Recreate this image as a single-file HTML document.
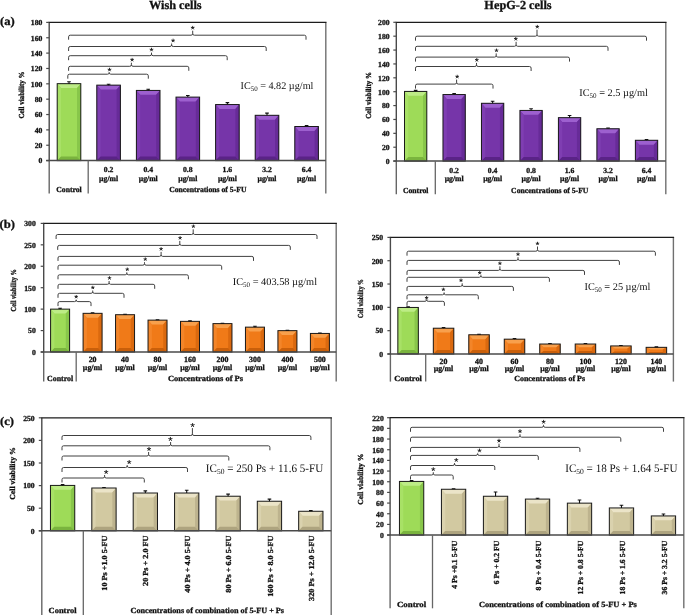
<!DOCTYPE html>
<html><head><meta charset="utf-8"><style>
html,body{margin:0;padding:0;background:#fff;}
body{width:685px;height:615px;overflow:hidden;}
svg{display:block;will-change:transform;}
text[font-weight=bold]{stroke:#111;stroke-width:0.3px;}
svg{font-family:"Liberation Serif",serif;text-rendering:geometricPrecision;}
</style></head><body>
<svg width="685" height="615" viewBox="0 0 685 615">
<rect width="685" height="615" fill="#fff"/>
<path d="M68.6,39.7V36.8Q68.6,35.2 70.2,35.2H191.1Q192.7,35.2 192.7,33.6V30.7M192.7,33.6Q192.7,35.2 194.3,35.2H304.4Q306,35.2 306,36.8V39.7" stroke="#404040" stroke-width="1" fill="none"/>
<path d="M192.7,27.8L192.7,26.3M192.7,27.8L194.13,27.34M192.7,27.8L193.58,29.01M192.7,27.8L191.82,29.01M192.7,27.8L191.27,27.34" stroke="#222" stroke-width="0.95" stroke-linecap="round" fill="none"/>
<path d="M68.6,51V48.1Q68.6,46.5 70.2,46.5H170Q171.6,46.5 171.6,44.9V43.5M171.6,44.9Q171.6,46.5 173.2,46.5H264.6Q266.2,46.5 266.2,48.1V51" stroke="#404040" stroke-width="1" fill="none"/>
<path d="M173.1,40.6L173.1,39.1M173.1,40.6L174.53,40.14M173.1,40.6L173.98,41.81M173.1,40.6L172.22,41.81M173.1,40.6L171.67,40.14" stroke="#222" stroke-width="0.95" stroke-linecap="round" fill="none"/>
<path d="M68.6,60.2V57.3Q68.6,55.7 70.2,55.7H149.9Q151.5,55.7 151.5,54.1V52.6M151.5,54.1Q151.5,55.7 153.1,55.7H225.6Q227.2,55.7 227.2,57.3V60.2" stroke="#404040" stroke-width="1" fill="none"/>
<path d="M151.5,49.7L151.5,48.2M151.5,49.7L152.93,49.24M151.5,49.7L152.38,50.91M151.5,49.7L150.62,50.91M151.5,49.7L150.07,49.24" stroke="#222" stroke-width="0.95" stroke-linecap="round" fill="none"/>
<path d="M68.6,70.8V67.9Q68.6,66.3 70.2,66.3H129.8Q131.4,66.3 131.4,64.7V62.7M131.4,64.7Q131.4,66.3 133,66.3H187.2Q188.8,66.3 188.8,67.9V70.8" stroke="#404040" stroke-width="1" fill="none"/>
<path d="M132.1,59.8L132.1,58.3M132.1,59.8L133.53,59.34M132.1,59.8L132.98,61.01M132.1,59.8L131.22,61.01M132.1,59.8L130.67,59.34" stroke="#222" stroke-width="0.95" stroke-linecap="round" fill="none"/>
<path d="M67.8,78.7V75.8Q67.8,74.2 69.4,74.2H107.6Q109.2,74.2 109.2,72.6V72.2M109.2,72.6Q109.2,74.2 110.8,74.2H146.7Q148.3,74.2 148.3,75.8V78.7" stroke="#404040" stroke-width="1" fill="none"/>
<path d="M109.5,69.7L109.5,68.2M109.5,69.7L110.93,69.24M109.5,69.7L110.38,70.91M109.5,69.7L108.62,70.91M109.5,69.7L108.07,69.24" stroke="#222" stroke-width="0.95" stroke-linecap="round" fill="none"/>
<rect x="57.2" y="83.67" width="23.6" height="76.93" fill="#9edb58"/>
<polygon points="57.2,83.67 80.8,83.67 77,88.07 61,88.07" fill="#bdec86"/>
<polygon points="57.2,83.67 61,88.07 61,156.6 57.2,160.6" fill="#a8e166"/>
<polygon points="80.8,83.67 80.8,160.6 77,156.6 77,88.07" fill="#88c64a"/>
<polygon points="57.2,160.6 61,156.6 77,156.6 80.8,160.6" fill="#7ab43e"/>
<rect x="57.2" y="83.67" width="23.6" height="76.93" fill="none" stroke="#1a1a1a" stroke-width="1"/>
<path d="M69,83.67V81.75M67.2,81.75H70.8" stroke="#111" stroke-width="1.1" fill="none"/>
<rect x="96.8" y="85.13" width="23.6" height="75.47" fill="#7635a9"/>
<polygon points="96.8,85.13 120.4,85.13 116.6,89.53 100.6,89.53" fill="#9d60cf"/>
<polygon points="96.8,85.13 100.6,89.53 100.6,156.6 96.8,160.6" fill="#7f3eb2"/>
<polygon points="120.4,85.13 120.4,160.6 116.6,156.6 116.6,89.53" fill="#672b98"/>
<polygon points="96.8,160.6 100.6,156.6 116.6,156.6 120.4,160.6" fill="#5a2387"/>
<rect x="96.8" y="85.13" width="23.6" height="75.47" fill="none" stroke="#1a1a1a" stroke-width="1"/>
<path d="M108.6,85.13V84.21M106.8,84.21H110.4" stroke="#111" stroke-width="1.1" fill="none"/>
<rect x="136.4" y="90.43" width="23.6" height="70.17" fill="#7635a9"/>
<polygon points="136.4,90.43 160,90.43 156.2,94.83 140.2,94.83" fill="#9d60cf"/>
<polygon points="136.4,90.43 140.2,94.83 140.2,156.6 136.4,160.6" fill="#7f3eb2"/>
<polygon points="160,90.43 160,160.6 156.2,156.6 156.2,94.83" fill="#672b98"/>
<polygon points="136.4,160.6 140.2,156.6 156.2,156.6 160,160.6" fill="#5a2387"/>
<rect x="136.4" y="90.43" width="23.6" height="70.17" fill="none" stroke="#1a1a1a" stroke-width="1"/>
<path d="M148.2,90.43V89.27M146.4,89.27H150" stroke="#111" stroke-width="1.1" fill="none"/>
<rect x="176" y="97.1" width="23.6" height="63.5" fill="#7635a9"/>
<polygon points="176,97.1 199.6,97.1 195.8,101.5 179.8,101.5" fill="#9d60cf"/>
<polygon points="176,97.1 179.8,101.5 179.8,156.6 176,160.6" fill="#7f3eb2"/>
<polygon points="199.6,97.1 199.6,160.6 195.8,156.6 195.8,101.5" fill="#672b98"/>
<polygon points="176,160.6 179.8,156.6 195.8,156.6 199.6,160.6" fill="#5a2387"/>
<rect x="176" y="97.1" width="23.6" height="63.5" fill="none" stroke="#1a1a1a" stroke-width="1"/>
<path d="M187.8,97.1V95.57M186,95.57H189.6" stroke="#111" stroke-width="1.1" fill="none"/>
<rect x="215.6" y="104.55" width="23.6" height="56.05" fill="#7635a9"/>
<polygon points="215.6,104.55 239.2,104.55 235.4,108.95 219.4,108.95" fill="#9d60cf"/>
<polygon points="215.6,104.55 219.4,108.95 219.4,156.6 215.6,160.6" fill="#7f3eb2"/>
<polygon points="239.2,104.55 239.2,160.6 235.4,156.6 235.4,108.95" fill="#672b98"/>
<polygon points="215.6,160.6 219.4,156.6 235.4,156.6 239.2,160.6" fill="#5a2387"/>
<rect x="215.6" y="104.55" width="23.6" height="56.05" fill="none" stroke="#1a1a1a" stroke-width="1"/>
<path d="M227.4,104.55V102.63M225.6,102.63H229.2" stroke="#111" stroke-width="1.1" fill="none"/>
<rect x="255.2" y="115.3" width="23.6" height="45.3" fill="#7635a9"/>
<polygon points="255.2,115.3 278.8,115.3 275,119.7 259,119.7" fill="#9d60cf"/>
<polygon points="255.2,115.3 259,119.7 259,156.6 255.2,160.6" fill="#7f3eb2"/>
<polygon points="278.8,115.3 278.8,160.6 275,156.6 275,119.7" fill="#672b98"/>
<polygon points="255.2,160.6 259,156.6 275,156.6 278.8,160.6" fill="#5a2387"/>
<rect x="255.2" y="115.3" width="23.6" height="45.3" fill="none" stroke="#1a1a1a" stroke-width="1"/>
<path d="M267,115.3V113.15M265.2,113.15H268.8" stroke="#111" stroke-width="1.1" fill="none"/>
<rect x="294.8" y="126.51" width="23.6" height="34.09" fill="#7635a9"/>
<polygon points="294.8,126.51 318.4,126.51 314.6,130.91 298.6,130.91" fill="#9d60cf"/>
<polygon points="294.8,126.51 298.6,130.91 298.6,156.6 294.8,160.6" fill="#7f3eb2"/>
<polygon points="318.4,126.51 318.4,160.6 314.6,156.6 314.6,130.91" fill="#672b98"/>
<polygon points="294.8,160.6 298.6,156.6 314.6,156.6 318.4,160.6" fill="#5a2387"/>
<rect x="294.8" y="126.51" width="23.6" height="34.09" fill="none" stroke="#1a1a1a" stroke-width="1"/>
<path d="M306.6,126.51V125.59M304.8,125.59H308.4" stroke="#111" stroke-width="1.1" fill="none"/>
<path d="M49.2,193.4V160.6" stroke="#666" stroke-width="1.4" fill="none"/>
<path d="M325.8,193.4V22.4" stroke="#707070" stroke-width="1.4" fill="none"/>
<path d="M49.2,160.6V22.4" stroke="#4a4a4a" stroke-width="1.4" fill="none"/>
<path d="M48.5,22.4H326.5" stroke="#1c1c1c" stroke-width="1.2" fill="none"/>
<path d="M46.2,160.6H325.8" stroke="#4a4a4a" stroke-width="1.5" fill="none"/>
<path d="M88.2,160.6V193.4" stroke="#666" stroke-width="1.3" fill="none"/>
<path d="M46.2,160.6H49.2" stroke="#4a4a4a" stroke-width="1.2"/>
<text x="42.4" y="163.4" font-size="7.7" text-anchor="end" font-weight="bold" fill="#111" >0</text>
<path d="M46.2,145.24H49.2" stroke="#4a4a4a" stroke-width="1.2"/>
<text x="42.4" y="148.04" font-size="7.7" text-anchor="end" font-weight="bold" fill="#111" >20</text>
<path d="M46.2,129.89H49.2" stroke="#4a4a4a" stroke-width="1.2"/>
<text x="42.4" y="132.69" font-size="7.7" text-anchor="end" font-weight="bold" fill="#111" >40</text>
<path d="M46.2,114.53H49.2" stroke="#4a4a4a" stroke-width="1.2"/>
<text x="42.4" y="117.33" font-size="7.7" text-anchor="end" font-weight="bold" fill="#111" >60</text>
<path d="M46.2,99.18H49.2" stroke="#4a4a4a" stroke-width="1.2"/>
<text x="42.4" y="101.98" font-size="7.7" text-anchor="end" font-weight="bold" fill="#111" >80</text>
<path d="M46.2,83.82H49.2" stroke="#4a4a4a" stroke-width="1.2"/>
<text x="42.4" y="86.62" font-size="7.7" text-anchor="end" font-weight="bold" fill="#111" >100</text>
<path d="M46.2,68.47H49.2" stroke="#4a4a4a" stroke-width="1.2"/>
<text x="42.4" y="71.27" font-size="7.7" text-anchor="end" font-weight="bold" fill="#111" >120</text>
<path d="M46.2,53.11H49.2" stroke="#4a4a4a" stroke-width="1.2"/>
<text x="42.4" y="55.91" font-size="7.7" text-anchor="end" font-weight="bold" fill="#111" >140</text>
<path d="M46.2,37.76H49.2" stroke="#4a4a4a" stroke-width="1.2"/>
<text x="42.4" y="40.56" font-size="7.7" text-anchor="end" font-weight="bold" fill="#111" >160</text>
<path d="M46.2,22.4H49.2" stroke="#4a4a4a" stroke-width="1.2"/>
<text x="42.4" y="25.2" font-size="7.7" text-anchor="end" font-weight="bold" fill="#111" >180</text>
<text transform="translate(24.3 95) rotate(-90) scale(0.913 1)" font-size="7.7" text-anchor="middle" font-weight="bold" fill="#111" >Cell viability %</text>
<text transform="translate(240.5 89) scale(1.000 1)" font-size="10.2" fill="#111">IC<tspan font-size="6.94" dy="2.04">50</tspan><tspan dy="-2.04"> = 4.82 &#181;g/ml</tspan></text>
<text x="69" y="192.4" font-size="7.7" text-anchor="middle" font-weight="bold" fill="#111" >Control</text>
<text x="246.5" y="192.4" font-size="7.7" text-anchor="end" font-weight="bold" fill="#111" >Concentrations of 5-FU</text>
<text x="108.6" y="172" font-size="7.7" text-anchor="middle" font-weight="bold" fill="#111" >0.2</text>
<text x="108.6" y="180.5" font-size="7.7" text-anchor="middle" font-weight="bold" fill="#111" >&#181;g/ml</text>
<text x="148.2" y="172" font-size="7.7" text-anchor="middle" font-weight="bold" fill="#111" >0.4</text>
<text x="148.2" y="180.5" font-size="7.7" text-anchor="middle" font-weight="bold" fill="#111" >&#181;g/ml</text>
<text x="187.8" y="172" font-size="7.7" text-anchor="middle" font-weight="bold" fill="#111" >0.8</text>
<text x="187.8" y="180.5" font-size="7.7" text-anchor="middle" font-weight="bold" fill="#111" >&#181;g/ml</text>
<text x="227.4" y="172" font-size="7.7" text-anchor="middle" font-weight="bold" fill="#111" >1.6</text>
<text x="227.4" y="180.5" font-size="7.7" text-anchor="middle" font-weight="bold" fill="#111" >&#181;g/ml</text>
<text x="267" y="172" font-size="7.7" text-anchor="middle" font-weight="bold" fill="#111" >3.2</text>
<text x="267" y="180.5" font-size="7.7" text-anchor="middle" font-weight="bold" fill="#111" >&#181;g/ml</text>
<text x="306.6" y="172" font-size="7.7" text-anchor="middle" font-weight="bold" fill="#111" >6.4</text>
<text x="306.6" y="180.5" font-size="7.7" text-anchor="middle" font-weight="bold" fill="#111" >&#181;g/ml</text>
<path d="M415.5,40.7V37.8Q415.5,36.2 417.1,36.2H535.4Q537,36.2 537,34.6V29.7M537,34.6Q537,36.2 538.6,36.2H644.9Q646.5,36.2 646.5,37.8V40.7" stroke="#404040" stroke-width="1" fill="none"/>
<path d="M537.3,26.8L537.3,25.3M537.3,26.8L538.73,26.34M537.3,26.8L538.18,28.01M537.3,26.8L536.42,28.01M537.3,26.8L535.87,26.34" stroke="#222" stroke-width="0.95" stroke-linecap="round" fill="none"/>
<path d="M415.5,50.8V47.9Q415.5,46.3 417.1,46.3H514.5Q516.1,46.3 516.1,44.7V41.8M516.1,44.7Q516.1,46.3 517.7,46.3H606.4Q608,46.3 608,47.9V50.8" stroke="#404040" stroke-width="1" fill="none"/>
<path d="M515.8,38.9L515.8,37.4M515.8,38.9L517.23,38.44M515.8,38.9L516.68,40.11M515.8,38.9L514.92,40.11M515.8,38.9L514.37,38.44" stroke="#222" stroke-width="0.95" stroke-linecap="round" fill="none"/>
<path d="M415.5,61.6V58.7Q415.5,57.1 417.1,57.1H494.6Q496.2,57.1 496.2,55.5V53.4M496.2,55.5Q496.2,57.1 497.8,57.1H567.9Q569.5,57.1 569.5,58.7V61.6" stroke="#404040" stroke-width="1" fill="none"/>
<path d="M496.5,50.5L496.5,49M496.5,50.5L497.93,50.04M496.5,50.5L497.38,51.71M496.5,50.5L495.62,51.71M496.5,50.5L495.07,50.04" stroke="#222" stroke-width="0.95" stroke-linecap="round" fill="none"/>
<path d="M415.5,71V68.1Q415.5,66.5 417.1,66.5H474.9Q476.5,66.5 476.5,64.9V62.9M476.5,64.9Q476.5,66.5 478.1,66.5H529.5Q531.1,66.5 531.1,68.1V71" stroke="#404040" stroke-width="1" fill="none"/>
<path d="M476.8,60L476.8,58.5M476.8,60L478.23,59.54M476.8,60L477.68,61.21M476.8,60L475.92,61.21M476.8,60L475.37,59.54" stroke="#222" stroke-width="0.95" stroke-linecap="round" fill="none"/>
<path d="M415.5,88.6V85.7Q415.5,84.1 417.1,84.1H455Q456.6,84.1 456.6,82.5V79.6M456.6,82.5Q456.6,84.1 458.2,84.1H491.4Q493,84.1 493,85.7V88.6" stroke="#404040" stroke-width="1" fill="none"/>
<path d="M457.2,76.7L457.2,75.2M457.2,76.7L458.63,76.24M457.2,76.7L458.08,77.91M457.2,76.7L456.32,77.91M457.2,76.7L455.77,76.24" stroke="#222" stroke-width="0.95" stroke-linecap="round" fill="none"/>
<rect x="404.5" y="91.42" width="22.3" height="69.68" fill="#9edb58"/>
<polygon points="404.5,91.42 426.8,91.42 423,95.82 408.3,95.82" fill="#bdec86"/>
<polygon points="404.5,91.42 408.3,95.82 408.3,157.1 404.5,161.1" fill="#a8e166"/>
<polygon points="426.8,91.42 426.8,161.1 423,157.1 423,95.82" fill="#88c64a"/>
<polygon points="404.5,161.1 408.3,157.1 423,157.1 426.8,161.1" fill="#7ab43e"/>
<rect x="404.5" y="91.42" width="22.3" height="69.68" fill="none" stroke="#1a1a1a" stroke-width="1"/>
<path d="M415.65,91.42V90.38M413.85,90.38H417.45" stroke="#111" stroke-width="1.1" fill="none"/>
<rect x="442.98" y="94.55" width="22.3" height="66.55" fill="#7635a9"/>
<polygon points="442.98,94.55 465.28,94.55 461.48,98.95 446.78,98.95" fill="#9d60cf"/>
<polygon points="442.98,94.55 446.78,98.95 446.78,157.1 442.98,161.1" fill="#7f3eb2"/>
<polygon points="465.28,94.55 465.28,161.1 461.48,157.1 461.48,98.95" fill="#672b98"/>
<polygon points="442.98,161.1 446.78,157.1 461.48,157.1 465.28,161.1" fill="#5a2387"/>
<rect x="442.98" y="94.55" width="22.3" height="66.55" fill="none" stroke="#1a1a1a" stroke-width="1"/>
<path d="M454.13,94.55V93.5M452.33,93.5H455.93" stroke="#111" stroke-width="1.1" fill="none"/>
<rect x="481.46" y="103.29" width="22.3" height="57.81" fill="#7635a9"/>
<polygon points="481.46,103.29 503.76,103.29 499.96,107.69 485.26,107.69" fill="#9d60cf"/>
<polygon points="481.46,103.29 485.26,107.69 485.26,157.1 481.46,161.1" fill="#7f3eb2"/>
<polygon points="503.76,103.29 503.76,161.1 499.96,157.1 499.96,107.69" fill="#672b98"/>
<polygon points="481.46,161.1 485.26,157.1 499.96,157.1 503.76,161.1" fill="#5a2387"/>
<rect x="481.46" y="103.29" width="22.3" height="57.81" fill="none" stroke="#1a1a1a" stroke-width="1"/>
<path d="M492.61,103.29V101.21M490.81,101.21H494.41" stroke="#111" stroke-width="1.1" fill="none"/>
<rect x="519.94" y="110.44" width="22.3" height="50.66" fill="#7635a9"/>
<polygon points="519.94,110.44 542.24,110.44 538.44,114.84 523.74,114.84" fill="#9d60cf"/>
<polygon points="519.94,110.44 523.74,114.84 523.74,157.1 519.94,161.1" fill="#7f3eb2"/>
<polygon points="542.24,110.44 542.24,161.1 538.44,157.1 538.44,114.84" fill="#672b98"/>
<polygon points="519.94,161.1 523.74,157.1 538.44,157.1 542.24,161.1" fill="#5a2387"/>
<rect x="519.94" y="110.44" width="22.3" height="50.66" fill="none" stroke="#1a1a1a" stroke-width="1"/>
<path d="M531.09,110.44V108.7M529.29,108.7H532.89" stroke="#111" stroke-width="1.1" fill="none"/>
<rect x="558.42" y="117.66" width="22.3" height="43.44" fill="#7635a9"/>
<polygon points="558.42,117.66 580.72,117.66 576.92,122.06 562.22,122.06" fill="#9d60cf"/>
<polygon points="558.42,117.66 562.22,122.06 562.22,157.1 558.42,161.1" fill="#7f3eb2"/>
<polygon points="580.72,117.66 580.72,161.1 576.92,157.1 576.92,122.06" fill="#672b98"/>
<polygon points="558.42,161.1 562.22,157.1 576.92,157.1 580.72,161.1" fill="#5a2387"/>
<rect x="558.42" y="117.66" width="22.3" height="43.44" fill="none" stroke="#1a1a1a" stroke-width="1"/>
<path d="M569.57,117.66V115.57M567.77,115.57H571.37" stroke="#111" stroke-width="1.1" fill="none"/>
<rect x="596.9" y="128.76" width="22.3" height="32.34" fill="#7635a9"/>
<polygon points="596.9,128.76 619.2,128.76 615.4,133.16 600.7,133.16" fill="#9d60cf"/>
<polygon points="596.9,128.76 600.7,133.16 600.7,157.1 596.9,161.1" fill="#7f3eb2"/>
<polygon points="619.2,128.76 619.2,161.1 615.4,157.1 615.4,133.16" fill="#672b98"/>
<polygon points="596.9,161.1 600.7,157.1 615.4,157.1 619.2,161.1" fill="#5a2387"/>
<rect x="596.9" y="128.76" width="22.3" height="32.34" fill="none" stroke="#1a1a1a" stroke-width="1"/>
<path d="M608.05,128.76V128.07M606.25,128.07H609.85" stroke="#111" stroke-width="1.1" fill="none"/>
<rect x="635.38" y="140.28" width="22.3" height="20.82" fill="#7635a9"/>
<polygon points="635.38,140.28 657.68,140.28 653.88,144.68 639.18,144.68" fill="#9d60cf"/>
<polygon points="635.38,140.28 639.18,144.68 639.18,157.1 635.38,161.1" fill="#7f3eb2"/>
<polygon points="657.68,140.28 657.68,161.1 653.88,157.1 653.88,144.68" fill="#672b98"/>
<polygon points="635.38,161.1 639.18,157.1 653.88,157.1 657.68,161.1" fill="#5a2387"/>
<rect x="635.38" y="140.28" width="22.3" height="20.82" fill="none" stroke="#1a1a1a" stroke-width="1"/>
<path d="M646.53,140.28V139.45M644.73,139.45H648.33" stroke="#111" stroke-width="1.1" fill="none"/>
<path d="M396.3,194.3V161.1" stroke="#666" stroke-width="1.4" fill="none"/>
<path d="M665.8,194.3V22.3" stroke="#707070" stroke-width="1.4" fill="none"/>
<path d="M396.3,161.1V22.3" stroke="#4a4a4a" stroke-width="1.4" fill="none"/>
<path d="M395.6,22.3H666.5" stroke="#1c1c1c" stroke-width="1.2" fill="none"/>
<path d="M393.3,161.1H665.8" stroke="#4a4a4a" stroke-width="1.5" fill="none"/>
<path d="M435.3,161.1V194.3" stroke="#666" stroke-width="1.3" fill="none"/>
<path d="M393.3,161.1H396.3" stroke="#4a4a4a" stroke-width="1.2"/>
<text x="389.6" y="163.9" font-size="7.7" text-anchor="end" font-weight="bold" fill="#111" >0</text>
<path d="M393.3,147.22H396.3" stroke="#4a4a4a" stroke-width="1.2"/>
<text x="389.6" y="150.02" font-size="7.7" text-anchor="end" font-weight="bold" fill="#111" >20</text>
<path d="M393.3,133.34H396.3" stroke="#4a4a4a" stroke-width="1.2"/>
<text x="389.6" y="136.14" font-size="7.7" text-anchor="end" font-weight="bold" fill="#111" >40</text>
<path d="M393.3,119.46H396.3" stroke="#4a4a4a" stroke-width="1.2"/>
<text x="389.6" y="122.26" font-size="7.7" text-anchor="end" font-weight="bold" fill="#111" >60</text>
<path d="M393.3,105.58H396.3" stroke="#4a4a4a" stroke-width="1.2"/>
<text x="389.6" y="108.38" font-size="7.7" text-anchor="end" font-weight="bold" fill="#111" >80</text>
<path d="M393.3,91.7H396.3" stroke="#4a4a4a" stroke-width="1.2"/>
<text x="389.6" y="94.5" font-size="7.7" text-anchor="end" font-weight="bold" fill="#111" >100</text>
<path d="M393.3,77.82H396.3" stroke="#4a4a4a" stroke-width="1.2"/>
<text x="389.6" y="80.62" font-size="7.7" text-anchor="end" font-weight="bold" fill="#111" >120</text>
<path d="M393.3,63.94H396.3" stroke="#4a4a4a" stroke-width="1.2"/>
<text x="389.6" y="66.74" font-size="7.7" text-anchor="end" font-weight="bold" fill="#111" >140</text>
<path d="M393.3,50.06H396.3" stroke="#4a4a4a" stroke-width="1.2"/>
<text x="389.6" y="52.86" font-size="7.7" text-anchor="end" font-weight="bold" fill="#111" >160</text>
<path d="M393.3,36.18H396.3" stroke="#4a4a4a" stroke-width="1.2"/>
<text x="389.6" y="38.98" font-size="7.7" text-anchor="end" font-weight="bold" fill="#111" >180</text>
<path d="M393.3,22.3H396.3" stroke="#4a4a4a" stroke-width="1.2"/>
<text x="389.6" y="25.1" font-size="7.7" text-anchor="end" font-weight="bold" fill="#111" >200</text>
<text transform="translate(370.8 95.4) rotate(-90) scale(0.903 1)" font-size="7.7" text-anchor="middle" font-weight="bold" fill="#111" >Cell viability %</text>
<text transform="translate(579.3 96.3) scale(1.000 1)" font-size="10.3" fill="#111">IC<tspan font-size="7" dy="2.06">50</tspan><tspan dy="-2.06"> = 2.5 &#181;g/ml</tspan></text>
<text x="415.65" y="192.9" font-size="7.7" text-anchor="middle" font-weight="bold" fill="#111" >Control</text>
<text x="588.4" y="192.9" font-size="7.7" text-anchor="end" font-weight="bold" fill="#111" >Concentrations of 5-FU</text>
<text x="454.13" y="172.6" font-size="7.7" text-anchor="middle" font-weight="bold" fill="#111" >0.2</text>
<text x="454.13" y="180.8" font-size="7.7" text-anchor="middle" font-weight="bold" fill="#111" >&#181;g/ml</text>
<text x="492.61" y="172.6" font-size="7.7" text-anchor="middle" font-weight="bold" fill="#111" >0.4</text>
<text x="492.61" y="180.8" font-size="7.7" text-anchor="middle" font-weight="bold" fill="#111" >&#181;g/ml</text>
<text x="531.09" y="172.6" font-size="7.7" text-anchor="middle" font-weight="bold" fill="#111" >0.8</text>
<text x="531.09" y="180.8" font-size="7.7" text-anchor="middle" font-weight="bold" fill="#111" >&#181;g/ml</text>
<text x="569.57" y="172.6" font-size="7.7" text-anchor="middle" font-weight="bold" fill="#111" >1.6</text>
<text x="569.57" y="180.8" font-size="7.7" text-anchor="middle" font-weight="bold" fill="#111" >&#181;g/ml</text>
<text x="608.05" y="172.6" font-size="7.7" text-anchor="middle" font-weight="bold" fill="#111" >3.2</text>
<text x="608.05" y="180.8" font-size="7.7" text-anchor="middle" font-weight="bold" fill="#111" >&#181;g/ml</text>
<text x="646.53" y="172.6" font-size="7.7" text-anchor="middle" font-weight="bold" fill="#111" >6.4</text>
<text x="646.53" y="180.8" font-size="7.7" text-anchor="middle" font-weight="bold" fill="#111" >&#181;g/ml</text>
<path d="M56.1,239V236.1Q56.1,234.5 57.7,234.5H191.6Q193.2,234.5 193.2,232.9V229.3M193.2,232.9Q193.2,234.5 194.8,234.5H315.4Q317,234.5 317,236.1V239" stroke="#404040" stroke-width="1" fill="none"/>
<path d="M193.4,226.4L193.4,225M193.4,226.4L194.73,225.97M193.4,226.4L194.22,227.53M193.4,226.4L192.58,227.53M193.4,226.4L192.07,225.97" stroke="#222" stroke-width="0.95" stroke-linecap="round" fill="none"/>
<path d="M57.7,249.9V247Q57.7,245.4 59.3,245.4H178.2Q179.8,245.4 179.8,243.8V240.9M179.8,243.8Q179.8,245.4 181.4,245.4H288.7Q290.3,245.4 290.3,247V249.9" stroke="#404040" stroke-width="1" fill="none"/>
<path d="M180.1,238L180.1,236.6M180.1,238L181.43,237.57M180.1,238L180.92,239.13M180.1,238L179.28,239.13M180.1,238L178.77,237.57" stroke="#222" stroke-width="0.95" stroke-linecap="round" fill="none"/>
<path d="M58,260.9V258Q58,256.4 59.6,256.4H159.5Q161.1,256.4 161.1,254.8V251.9M161.1,254.8Q161.1,256.4 162.7,256.4H251.9Q253.5,256.4 253.5,258V260.9" stroke="#404040" stroke-width="1" fill="none"/>
<path d="M161.1,249L161.1,247.6M161.1,249L162.43,248.57M161.1,249L161.92,250.13M161.1,249L160.28,250.13M161.1,249L159.77,248.57" stroke="#222" stroke-width="0.95" stroke-linecap="round" fill="none"/>
<path d="M58,269.7V266.8Q58,265.2 59.6,265.2H142.9Q144.5,265.2 144.5,263.6V262.2M144.5,263.6Q144.5,265.2 146.1,265.2H220.1Q221.7,265.2 221.7,266.8V269.7" stroke="#404040" stroke-width="1" fill="none"/>
<path d="M145.3,259.3L145.3,257.9M145.3,259.3L146.63,258.87M145.3,259.3L146.12,260.43M145.3,259.3L144.48,260.43M145.3,259.3L143.97,258.87" stroke="#222" stroke-width="0.95" stroke-linecap="round" fill="none"/>
<path d="M58,279.3V276.4Q58,274.8 59.6,274.8H125.2Q126.8,274.8 126.8,273.2V272.3M126.8,273.2Q126.8,274.8 128.4,274.8H186.8Q188.4,274.8 188.4,276.4V279.3" stroke="#404040" stroke-width="1" fill="none"/>
<path d="M127.3,269.4L127.3,268M127.3,269.4L128.63,268.97M127.3,269.4L128.12,270.53M127.3,269.4L126.48,270.53M127.3,269.4L125.97,268.97" stroke="#222" stroke-width="0.95" stroke-linecap="round" fill="none"/>
<path d="M58,288.8V285.9Q58,284.3 59.6,284.3H107.5Q109.1,284.3 109.1,282.7V281M109.1,282.7Q109.1,284.3 110.7,284.3H153.1Q154.7,284.3 154.7,285.9V288.8" stroke="#404040" stroke-width="1" fill="none"/>
<path d="M109.5,278.1L109.5,276.7M109.5,278.1L110.83,277.67M109.5,278.1L110.32,279.23M109.5,278.1L108.68,279.23M109.5,278.1L108.17,277.67" stroke="#222" stroke-width="0.95" stroke-linecap="round" fill="none"/>
<path d="M58,297.8V294.9Q58,293.3 59.6,293.3H91.1Q92.7,293.3 92.7,291.7V290.5M92.7,291.7Q92.7,293.3 94.3,293.3H122.4Q124,293.3 124,294.9V297.8" stroke="#404040" stroke-width="1" fill="none"/>
<path d="M92.8,287.6L92.8,286.2M92.8,287.6L94.13,287.17M92.8,287.6L93.62,288.73M92.8,287.6L91.98,288.73M92.8,287.6L91.47,287.17" stroke="#222" stroke-width="0.95" stroke-linecap="round" fill="none"/>
<path d="M58,306.1V303.2Q58,301.6 59.6,301.6H74.6Q76.2,301.6 76.2,300V299.6M76.2,300Q76.2,301.6 77.8,301.6H89.4Q91,301.6 91,303.2V306.1" stroke="#404040" stroke-width="1" fill="none"/>
<path d="M76.2,296.8L76.2,295.4M76.2,296.8L77.53,296.37M76.2,296.8L77.02,297.93M76.2,296.8L75.38,297.93M76.2,296.8L74.87,296.37" stroke="#222" stroke-width="0.95" stroke-linecap="round" fill="none"/>
<rect x="50.6" y="309.13" width="19" height="42.87" fill="#9edb58"/>
<polygon points="50.6,309.13 69.6,309.13 65.8,313.53 54.4,313.53" fill="#bdec86"/>
<polygon points="50.6,309.13 54.4,313.53 54.4,348 50.6,352" fill="#a8e166"/>
<polygon points="69.6,309.13 69.6,352 65.8,348 65.8,313.53" fill="#88c64a"/>
<polygon points="50.6,352 54.4,348 65.8,348 69.6,352" fill="#7ab43e"/>
<rect x="50.6" y="309.13" width="19" height="42.87" fill="none" stroke="#1a1a1a" stroke-width="1"/>
<path d="M60.1,309.13V308.28M58.3,308.28H61.9" stroke="#111" stroke-width="1.1" fill="none"/>
<rect x="83.08" y="313.33" width="19" height="38.67" fill="#f07a18"/>
<polygon points="83.08,313.33 102.08,313.33 98.28,317.73 86.88,317.73" fill="#f8a04c"/>
<polygon points="83.08,313.33 86.88,317.73 86.88,348 83.08,352" fill="#f38529"/>
<polygon points="102.08,313.33 102.08,352 98.28,348 98.28,317.73" fill="#da690f"/>
<polygon points="83.08,352 86.88,348 98.28,348 102.08,352" fill="#c95f0a"/>
<rect x="83.08" y="313.33" width="19" height="38.67" fill="none" stroke="#1a1a1a" stroke-width="1"/>
<path d="M92.58,313.33V312.69M90.78,312.69H94.38" stroke="#111" stroke-width="1.1" fill="none"/>
<rect x="115.55" y="314.71" width="19" height="37.29" fill="#f07a18"/>
<polygon points="115.55,314.71 134.55,314.71 130.75,319.11 119.35,319.11" fill="#f8a04c"/>
<polygon points="115.55,314.71 119.35,319.11 119.35,348 115.55,352" fill="#f38529"/>
<polygon points="134.55,314.71 134.55,352 130.75,348 130.75,319.11" fill="#da690f"/>
<polygon points="115.55,352 119.35,348 130.75,348 134.55,352" fill="#c95f0a"/>
<rect x="115.55" y="314.71" width="19" height="37.29" fill="none" stroke="#1a1a1a" stroke-width="1"/>
<path d="M125.05,314.71V314.28M123.25,314.28H126.85" stroke="#111" stroke-width="1.1" fill="none"/>
<rect x="148.03" y="320.11" width="19" height="31.89" fill="#f07a18"/>
<polygon points="148.03,320.11 167.03,320.11 163.22,324.51 151.83,324.51" fill="#f8a04c"/>
<polygon points="148.03,320.11 151.83,324.51 151.83,348 148.03,352" fill="#f38529"/>
<polygon points="167.03,320.11 167.03,352 163.22,348 163.22,324.51" fill="#da690f"/>
<polygon points="148.03,352 151.83,348 163.22,348 167.03,352" fill="#c95f0a"/>
<rect x="148.03" y="320.11" width="19" height="31.89" fill="none" stroke="#1a1a1a" stroke-width="1"/>
<path d="M157.53,320.11V319.68M155.72,319.68H159.33" stroke="#111" stroke-width="1.1" fill="none"/>
<rect x="180.5" y="321.35" width="19" height="30.65" fill="#f07a18"/>
<polygon points="180.5,321.35 199.5,321.35 195.7,325.75 184.3,325.75" fill="#f8a04c"/>
<polygon points="180.5,321.35 184.3,325.75 184.3,348 180.5,352" fill="#f38529"/>
<polygon points="199.5,321.35 199.5,352 195.7,348 195.7,325.75" fill="#da690f"/>
<polygon points="180.5,352 184.3,348 195.7,348 199.5,352" fill="#c95f0a"/>
<rect x="180.5" y="321.35" width="19" height="30.65" fill="none" stroke="#1a1a1a" stroke-width="1"/>
<path d="M190,321.35V320.92M188.2,320.92H191.8" stroke="#111" stroke-width="1.1" fill="none"/>
<rect x="212.97" y="323.62" width="19" height="28.38" fill="#f07a18"/>
<polygon points="212.97,323.62 231.97,323.62 228.17,328.02 216.78,328.02" fill="#f8a04c"/>
<polygon points="212.97,323.62 216.78,328.02 216.78,348 212.97,352" fill="#f38529"/>
<polygon points="231.97,323.62 231.97,352 228.17,348 228.17,328.02" fill="#da690f"/>
<polygon points="212.97,352 216.78,348 228.17,348 231.97,352" fill="#c95f0a"/>
<rect x="212.97" y="323.62" width="19" height="28.38" fill="none" stroke="#1a1a1a" stroke-width="1"/>
<path d="M222.47,323.62V323.19M220.67,323.19H224.28" stroke="#111" stroke-width="1.1" fill="none"/>
<rect x="245.45" y="327.14" width="19" height="24.86" fill="#f07a18"/>
<polygon points="245.45,327.14 264.45,327.14 260.65,331.54 249.25,331.54" fill="#f8a04c"/>
<polygon points="245.45,327.14 249.25,331.54 249.25,348 245.45,352" fill="#f38529"/>
<polygon points="264.45,327.14 264.45,352 260.65,348 260.65,331.54" fill="#da690f"/>
<polygon points="245.45,352 249.25,348 260.65,348 264.45,352" fill="#c95f0a"/>
<rect x="245.45" y="327.14" width="19" height="24.86" fill="none" stroke="#1a1a1a" stroke-width="1"/>
<path d="M254.95,327.14V326.28M253.15,326.28H256.75" stroke="#111" stroke-width="1.1" fill="none"/>
<rect x="277.93" y="330.65" width="19" height="21.35" fill="#f07a18"/>
<polygon points="277.93,330.65 296.93,330.65 293.12,335.05 281.73,335.05" fill="#f8a04c"/>
<polygon points="277.93,330.65 281.73,335.05 281.73,348 277.93,352" fill="#f38529"/>
<polygon points="296.93,330.65 296.93,352 293.12,348 293.12,335.05" fill="#da690f"/>
<polygon points="277.93,352 281.73,348 293.12,348 296.93,352" fill="#c95f0a"/>
<rect x="277.93" y="330.65" width="19" height="21.35" fill="none" stroke="#1a1a1a" stroke-width="1"/>
<path d="M287.43,330.65V330.22M285.62,330.22H289.23" stroke="#111" stroke-width="1.1" fill="none"/>
<rect x="310.4" y="333.44" width="19" height="18.56" fill="#f07a18"/>
<polygon points="310.4,333.44 329.4,333.44 325.6,337.84 314.2,337.84" fill="#f8a04c"/>
<polygon points="310.4,333.44 314.2,337.84 314.2,348 310.4,352" fill="#f38529"/>
<polygon points="329.4,333.44 329.4,352 325.6,348 325.6,337.84" fill="#da690f"/>
<polygon points="310.4,352 314.2,348 325.6,348 329.4,352" fill="#c95f0a"/>
<rect x="310.4" y="333.44" width="19" height="18.56" fill="none" stroke="#1a1a1a" stroke-width="1"/>
<path d="M319.9,333.44V333.01M318.1,333.01H321.7" stroke="#111" stroke-width="1.1" fill="none"/>
<path d="M43.7,381.6V352" stroke="#666" stroke-width="1.4" fill="none"/>
<path d="M336.2,381.6V223.4" stroke="#707070" stroke-width="1.4" fill="none"/>
<path d="M43.7,352V223.4" stroke="#4a4a4a" stroke-width="1.4" fill="none"/>
<path d="M43,223.4H336.9" stroke="#1c1c1c" stroke-width="1.2" fill="none"/>
<path d="M40.7,352H336.2" stroke="#4a4a4a" stroke-width="1.5" fill="none"/>
<path d="M76.2,352V381.6" stroke="#666" stroke-width="1.3" fill="none"/>
<path d="M40.7,352H43.7" stroke="#4a4a4a" stroke-width="1.2"/>
<text x="35.8" y="354.8" font-size="7.7" text-anchor="end" font-weight="bold" fill="#111" >0</text>
<path d="M40.7,330.57H43.7" stroke="#4a4a4a" stroke-width="1.2"/>
<text x="35.8" y="333.37" font-size="7.7" text-anchor="end" font-weight="bold" fill="#111" >50</text>
<path d="M40.7,309.13H43.7" stroke="#4a4a4a" stroke-width="1.2"/>
<text x="35.8" y="311.93" font-size="7.7" text-anchor="end" font-weight="bold" fill="#111" >100</text>
<path d="M40.7,287.7H43.7" stroke="#4a4a4a" stroke-width="1.2"/>
<text x="35.8" y="290.5" font-size="7.7" text-anchor="end" font-weight="bold" fill="#111" >150</text>
<path d="M40.7,266.27H43.7" stroke="#4a4a4a" stroke-width="1.2"/>
<text x="35.8" y="269.07" font-size="7.7" text-anchor="end" font-weight="bold" fill="#111" >200</text>
<path d="M40.7,244.83H43.7" stroke="#4a4a4a" stroke-width="1.2"/>
<text x="35.8" y="247.63" font-size="7.7" text-anchor="end" font-weight="bold" fill="#111" >250</text>
<path d="M40.7,223.4H43.7" stroke="#4a4a4a" stroke-width="1.2"/>
<text x="35.8" y="226.2" font-size="7.7" text-anchor="end" font-weight="bold" fill="#111" >300</text>
<text transform="translate(16.3 290.3) rotate(-90) scale(0.816 1)" font-size="7.7" text-anchor="middle" font-weight="bold" fill="#111" >Cell viability %</text>
<text transform="translate(232.7 285) scale(1.000 1)" font-size="10.35" fill="#111">IC<tspan font-size="7.04" dy="2.07">50</tspan><tspan dy="-2.07"> = 403.58 &#181;g/ml</tspan></text>
<text x="60.1" y="381.1" font-size="7.9" text-anchor="middle" font-weight="bold" fill="#111" >Control</text>
<text transform="translate(243 381.1) scale(1.070 1)" font-size="7.9" text-anchor="end" font-weight="bold" fill="#111" >Concentrations of Ps</text>
<text x="92.58" y="362.4" font-size="7.9" text-anchor="middle" font-weight="bold" fill="#111" >20</text>
<text x="92.58" y="369.9" font-size="7.9" text-anchor="middle" font-weight="bold" fill="#111" >&#181;g/ml</text>
<text x="125.05" y="362.4" font-size="7.9" text-anchor="middle" font-weight="bold" fill="#111" >40</text>
<text x="125.05" y="369.9" font-size="7.9" text-anchor="middle" font-weight="bold" fill="#111" >&#181;g/ml</text>
<text x="157.53" y="362.4" font-size="7.9" text-anchor="middle" font-weight="bold" fill="#111" >80</text>
<text x="157.53" y="369.9" font-size="7.9" text-anchor="middle" font-weight="bold" fill="#111" >&#181;g/ml</text>
<text x="190" y="362.4" font-size="7.9" text-anchor="middle" font-weight="bold" fill="#111" >160</text>
<text x="190" y="369.9" font-size="7.9" text-anchor="middle" font-weight="bold" fill="#111" >&#181;g/ml</text>
<text x="222.47" y="362.4" font-size="7.9" text-anchor="middle" font-weight="bold" fill="#111" >200</text>
<text x="222.47" y="369.9" font-size="7.9" text-anchor="middle" font-weight="bold" fill="#111" >&#181;g/ml</text>
<text x="254.95" y="362.4" font-size="7.9" text-anchor="middle" font-weight="bold" fill="#111" >300</text>
<text x="254.95" y="369.9" font-size="7.9" text-anchor="middle" font-weight="bold" fill="#111" >&#181;g/ml</text>
<text x="287.43" y="362.4" font-size="7.9" text-anchor="middle" font-weight="bold" fill="#111" >400</text>
<text x="287.43" y="369.9" font-size="7.9" text-anchor="middle" font-weight="bold" fill="#111" >&#181;g/ml</text>
<text x="319.9" y="362.4" font-size="7.9" text-anchor="middle" font-weight="bold" fill="#111" >500</text>
<text x="319.9" y="369.9" font-size="7.9" text-anchor="middle" font-weight="bold" fill="#111" >&#181;g/ml</text>
<path d="M407,255.7V252.8Q407,251.2 408.6,251.2H535.9Q537.5,251.2 537.5,249.6V246.5M537.5,249.6Q537.5,251.2 539.1,251.2H653.8Q655.4,251.2 655.4,252.8V255.7" stroke="#404040" stroke-width="1" fill="none"/>
<path d="M537.5,243.6L537.5,242.2M537.5,243.6L538.83,243.17M537.5,243.6L538.32,244.73M537.5,243.6L536.68,244.73M537.5,243.6L536.17,243.17" stroke="#222" stroke-width="0.95" stroke-linecap="round" fill="none"/>
<path d="M407,264.9V262Q407,260.4 408.6,260.4H516.4Q518,260.4 518,258.8V257.2M518,258.8Q518,260.4 519.6,260.4H617.8Q619.4,260.4 619.4,262V264.9" stroke="#404040" stroke-width="1" fill="none"/>
<path d="M518,254.3L518,252.9M518,254.3L519.33,253.87M518,254.3L518.82,255.43M518,254.3L517.18,255.43M518,254.3L516.67,253.87" stroke="#222" stroke-width="0.95" stroke-linecap="round" fill="none"/>
<path d="M407,274.9V272Q407,270.4 408.6,270.4H498.3Q499.9,270.4 499.9,268.8V266.3M499.9,268.8Q499.9,270.4 501.5,270.4H582.9Q584.5,270.4 584.5,272V274.9" stroke="#404040" stroke-width="1" fill="none"/>
<path d="M499.9,263.4L499.9,262M499.9,263.4L501.23,262.97M499.9,263.4L500.72,264.53M499.9,263.4L499.08,264.53M499.9,263.4L498.57,262.97" stroke="#222" stroke-width="0.95" stroke-linecap="round" fill="none"/>
<path d="M407,281.8V278.9Q407,277.3 408.6,277.3H479.3Q480.9,277.3 480.9,275.7V275.3M480.9,275.7Q480.9,277.3 482.5,277.3H547.8Q549.4,277.3 549.4,278.9V281.8" stroke="#404040" stroke-width="1" fill="none"/>
<path d="M479.7,272.9L479.7,271.5M479.7,272.9L481.03,272.47M479.7,272.9L480.52,274.03M479.7,272.9L478.88,274.03M479.7,272.9L478.37,272.47" stroke="#222" stroke-width="0.95" stroke-linecap="round" fill="none"/>
<path d="M407,290.9V288Q407,286.4 408.6,286.4H460.6Q462.2,286.4 462.2,284.8V283.3M462.2,284.8Q462.2,286.4 463.8,286.4H511.8Q513.4,286.4 513.4,288V290.9" stroke="#404040" stroke-width="1" fill="none"/>
<path d="M461,280.4L461,279M461,280.4L462.33,279.97M461,280.4L461.82,281.53M461,280.4L460.18,281.53M461,280.4L459.67,279.97" stroke="#222" stroke-width="0.95" stroke-linecap="round" fill="none"/>
<path d="M407,299.3V296.4Q407,294.8 408.6,294.8H442.5Q444.1,294.8 444.1,293.2V292.4M444.1,293.2Q444.1,294.8 445.7,294.8H476.7Q478.3,294.8 478.3,296.4V299.3" stroke="#404040" stroke-width="1" fill="none"/>
<path d="M443.4,289.5L443.4,288.1M443.4,289.5L444.73,289.07M443.4,289.5L444.22,290.63M443.4,289.5L442.58,290.63M443.4,289.5L442.07,289.07" stroke="#222" stroke-width="0.95" stroke-linecap="round" fill="none"/>
<path d="M407,305.8V302.9Q407,301.3 408.6,301.3H425Q426.6,301.3 426.6,299.7V299.3M426.6,299.7Q426.6,301.3 428.2,301.3H442.8Q444.4,301.3 444.4,302.9V305.8" stroke="#404040" stroke-width="1" fill="none"/>
<path d="M426.6,297.9L426.6,296.5M426.6,297.9L427.93,297.47M426.6,297.9L427.42,299.03M426.6,297.9L425.78,299.03M426.6,297.9L425.27,297.47" stroke="#222" stroke-width="0.95" stroke-linecap="round" fill="none"/>
<rect x="397.85" y="307.45" width="20.5" height="46.55" fill="#9edb58"/>
<polygon points="397.85,307.45 418.35,307.45 414.55,311.85 401.65,311.85" fill="#bdec86"/>
<polygon points="397.85,307.45 401.65,311.85 401.65,350 397.85,354" fill="#a8e166"/>
<polygon points="418.35,307.45 418.35,354 414.55,350 414.55,311.85" fill="#88c64a"/>
<polygon points="397.85,354 401.65,350 414.55,350 418.35,354" fill="#7ab43e"/>
<rect x="397.85" y="307.45" width="20.5" height="46.55" fill="none" stroke="#1a1a1a" stroke-width="1"/>
<path d="M408.1,307.45V306.75M406.3,306.75H409.9" stroke="#111" stroke-width="1.1" fill="none"/>
<rect x="433.32" y="328.21" width="20.5" height="25.79" fill="#f07a18"/>
<polygon points="433.32,328.21 453.82,328.21 450.02,332.61 437.12,332.61" fill="#f8a04c"/>
<polygon points="433.32,328.21 437.12,332.61 437.12,350 433.32,354" fill="#f38529"/>
<polygon points="453.82,328.21 453.82,354 450.02,350 450.02,332.61" fill="#da690f"/>
<polygon points="433.32,354 437.12,350 450.02,350 453.82,354" fill="#c95f0a"/>
<rect x="433.32" y="328.21" width="20.5" height="25.79" fill="none" stroke="#1a1a1a" stroke-width="1"/>
<path d="M443.57,328.21V327.51M441.77,327.51H445.37" stroke="#111" stroke-width="1.1" fill="none"/>
<rect x="468.79" y="334.78" width="20.5" height="19.22" fill="#f07a18"/>
<polygon points="468.79,334.78 489.29,334.78 485.49,339.18 472.59,339.18" fill="#f8a04c"/>
<polygon points="468.79,334.78 472.59,339.18 472.59,350 468.79,354" fill="#f38529"/>
<polygon points="489.29,334.78 489.29,354 485.49,350 485.49,339.18" fill="#da690f"/>
<polygon points="468.79,354 472.59,350 485.49,350 489.29,354" fill="#c95f0a"/>
<rect x="468.79" y="334.78" width="20.5" height="19.22" fill="none" stroke="#1a1a1a" stroke-width="1"/>
<path d="M479.04,334.78V334.32M477.24,334.32H480.84" stroke="#111" stroke-width="1.1" fill="none"/>
<rect x="504.26" y="339.17" width="20.5" height="14.83" fill="#f07a18"/>
<polygon points="504.26,339.17 524.76,339.17 520.96,343.57 508.06,343.57" fill="#f8a04c"/>
<polygon points="504.26,339.17 508.06,343.57 508.06,350 504.26,354" fill="#f38529"/>
<polygon points="524.76,339.17 524.76,354 520.96,350 520.96,343.57" fill="#da690f"/>
<polygon points="504.26,354 508.06,350 520.96,350 524.76,354" fill="#c95f0a"/>
<rect x="504.26" y="339.17" width="20.5" height="14.83" fill="none" stroke="#1a1a1a" stroke-width="1"/>
<path d="M514.51,339.17V338.47M512.71,338.47H516.31" stroke="#111" stroke-width="1.1" fill="none"/>
<rect x="539.73" y="344.02" width="20.5" height="9.98" fill="#f07a18"/>
<polygon points="539.73,344.02 560.23,344.02 556.43,347.35 543.53,347.35" fill="#f8a04c"/>
<polygon points="539.73,344.02 543.53,347.35 543.53,350.98 539.73,354" fill="#f38529"/>
<polygon points="560.23,344.02 560.23,354 556.43,350.98 556.43,347.35" fill="#da690f"/>
<polygon points="539.73,354 543.53,350.98 556.43,350.98 560.23,354" fill="#c95f0a"/>
<rect x="539.73" y="344.02" width="20.5" height="9.98" fill="none" stroke="#1a1a1a" stroke-width="1"/>
<path d="M549.98,344.02V343.55M548.18,343.55H551.78" stroke="#111" stroke-width="1.1" fill="none"/>
<rect x="575.2" y="344.02" width="20.5" height="9.98" fill="#f07a18"/>
<polygon points="575.2,344.02 595.7,344.02 591.9,347.35 579,347.35" fill="#f8a04c"/>
<polygon points="575.2,344.02 579,347.35 579,350.98 575.2,354" fill="#f38529"/>
<polygon points="595.7,344.02 595.7,354 591.9,350.98 591.9,347.35" fill="#da690f"/>
<polygon points="575.2,354 579,350.98 591.9,350.98 595.7,354" fill="#c95f0a"/>
<rect x="575.2" y="344.02" width="20.5" height="9.98" fill="none" stroke="#1a1a1a" stroke-width="1"/>
<path d="M585.45,344.02V343.55M583.65,343.55H587.25" stroke="#111" stroke-width="1.1" fill="none"/>
<rect x="610.67" y="345.93" width="20.5" height="8.07" fill="#f07a18"/>
<polygon points="610.67,345.93 631.17,345.93 627.37,348.62 614.47,348.62" fill="#f8a04c"/>
<polygon points="610.67,345.93 614.47,348.62 614.47,351.55 610.67,354" fill="#f38529"/>
<polygon points="631.17,345.93 631.17,354 627.37,351.55 627.37,348.62" fill="#da690f"/>
<polygon points="610.67,354 614.47,351.55 627.37,351.55 631.17,354" fill="#c95f0a"/>
<rect x="610.67" y="345.93" width="20.5" height="8.07" fill="none" stroke="#1a1a1a" stroke-width="1"/>
<path d="M620.92,345.93V345.46M619.12,345.46H622.72" stroke="#111" stroke-width="1.1" fill="none"/>
<rect x="646.14" y="347.33" width="20.5" height="6.67" fill="#f07a18"/>
<polygon points="646.14,347.33 666.64,347.33 662.84,349.55 649.94,349.55" fill="#f8a04c"/>
<polygon points="646.14,347.33 649.94,349.55 649.94,351.98 646.14,354" fill="#f38529"/>
<polygon points="666.64,347.33 666.64,354 662.84,351.98 662.84,349.55" fill="#da690f"/>
<polygon points="646.14,354 649.94,351.98 662.84,351.98 666.64,354" fill="#c95f0a"/>
<rect x="646.14" y="347.33" width="20.5" height="6.67" fill="none" stroke="#1a1a1a" stroke-width="1"/>
<path d="M656.39,347.33V346.86M654.59,346.86H658.19" stroke="#111" stroke-width="1.1" fill="none"/>
<path d="M390.4,381.6V354" stroke="#666" stroke-width="1.4" fill="none"/>
<path d="M673.4,381.6V237.4" stroke="#707070" stroke-width="1.4" fill="none"/>
<path d="M390.4,354V237.4" stroke="#4a4a4a" stroke-width="1.4" fill="none"/>
<path d="M389.7,237.4H674.1" stroke="#1c1c1c" stroke-width="1.2" fill="none"/>
<path d="M387.4,354H673.4" stroke="#4a4a4a" stroke-width="1.5" fill="none"/>
<path d="M425.7,354V381.6" stroke="#666" stroke-width="1.3" fill="none"/>
<path d="M387.4,354H390.4" stroke="#4a4a4a" stroke-width="1.2"/>
<text x="383.2" y="356.8" font-size="7.7" text-anchor="end" font-weight="bold" fill="#111" >0</text>
<path d="M387.4,330.68H390.4" stroke="#4a4a4a" stroke-width="1.2"/>
<text x="383.2" y="333.48" font-size="7.7" text-anchor="end" font-weight="bold" fill="#111" >50</text>
<path d="M387.4,307.36H390.4" stroke="#4a4a4a" stroke-width="1.2"/>
<text x="383.2" y="310.16" font-size="7.7" text-anchor="end" font-weight="bold" fill="#111" >100</text>
<path d="M387.4,284.04H390.4" stroke="#4a4a4a" stroke-width="1.2"/>
<text x="383.2" y="286.84" font-size="7.7" text-anchor="end" font-weight="bold" fill="#111" >150</text>
<path d="M387.4,260.72H390.4" stroke="#4a4a4a" stroke-width="1.2"/>
<text x="383.2" y="263.52" font-size="7.7" text-anchor="end" font-weight="bold" fill="#111" >200</text>
<path d="M387.4,237.4H390.4" stroke="#4a4a4a" stroke-width="1.2"/>
<text x="383.2" y="240.2" font-size="7.7" text-anchor="end" font-weight="bold" fill="#111" >250</text>
<text transform="translate(363.4 298.5) rotate(-90) scale(0.750 1)" font-size="7.7" text-anchor="middle" font-weight="bold" fill="#111" >Cell viability %</text>
<text transform="translate(584.5 289.9) scale(1.000 1)" font-size="10.3" fill="#111">IC<tspan font-size="7" dy="2.06">50</tspan><tspan dy="-2.06"> = 25 &#181;g/ml</tspan></text>
<text transform="translate(408.1 381.2) scale(1.050 1)" font-size="7.9" text-anchor="middle" font-weight="bold" fill="#111" >Control</text>
<text transform="translate(585 381.2) scale(1.010 1)" font-size="7.9" text-anchor="end" font-weight="bold" fill="#111" >Concentrations of Ps</text>
<text x="443.57" y="363.8" font-size="7.9" text-anchor="middle" font-weight="bold" fill="#111" >20</text>
<text x="443.57" y="370.8" font-size="7.9" text-anchor="middle" font-weight="bold" fill="#111" >&#181;g/ml</text>
<text x="479.04" y="363.8" font-size="7.9" text-anchor="middle" font-weight="bold" fill="#111" >40</text>
<text x="479.04" y="370.8" font-size="7.9" text-anchor="middle" font-weight="bold" fill="#111" >&#181;g/ml</text>
<text x="514.51" y="363.8" font-size="7.9" text-anchor="middle" font-weight="bold" fill="#111" >60</text>
<text x="514.51" y="370.8" font-size="7.9" text-anchor="middle" font-weight="bold" fill="#111" >&#181;g/ml</text>
<text x="549.98" y="363.8" font-size="7.9" text-anchor="middle" font-weight="bold" fill="#111" >80</text>
<text x="549.98" y="370.8" font-size="7.9" text-anchor="middle" font-weight="bold" fill="#111" >&#181;g/ml</text>
<text x="585.45" y="363.8" font-size="7.9" text-anchor="middle" font-weight="bold" fill="#111" >100</text>
<text x="585.45" y="370.8" font-size="7.9" text-anchor="middle" font-weight="bold" fill="#111" >&#181;g/ml</text>
<text x="620.92" y="363.8" font-size="7.9" text-anchor="middle" font-weight="bold" fill="#111" >120</text>
<text x="620.92" y="370.8" font-size="7.9" text-anchor="middle" font-weight="bold" fill="#111" >&#181;g/ml</text>
<text x="656.39" y="363.8" font-size="7.9" text-anchor="middle" font-weight="bold" fill="#111" >140</text>
<text x="656.39" y="370.8" font-size="7.9" text-anchor="middle" font-weight="bold" fill="#111" >&#181;g/ml</text>
<path d="M62,440V437.1Q62,435.5 63.6,435.5H190.8Q192.4,435.5 192.4,433.9V428.1M192.4,433.9Q192.4,435.5 194,435.5H309.3Q310.9,435.5 310.9,437.1V440" stroke="#404040" stroke-width="1" fill="none"/>
<path d="M192.6,425.2L192.6,423.45M192.6,425.2L194.26,424.66M192.6,425.2L193.63,426.62M192.6,425.2L191.57,426.62M192.6,425.2L190.94,424.66" stroke="#222" stroke-width="0.95" stroke-linecap="round" fill="none"/>
<path d="M62,450.3V447.4Q62,445.8 63.6,445.8H169Q170.6,445.8 170.6,444.2V442M170.6,444.2Q170.6,445.8 172.2,445.8H268.3Q269.9,445.8 269.9,447.4V450.3" stroke="#404040" stroke-width="1" fill="none"/>
<path d="M170.4,439.1L170.4,437.35M170.4,439.1L172.06,438.56M170.4,439.1L171.43,440.52M170.4,439.1L169.37,440.52M170.4,439.1L168.74,438.56" stroke="#222" stroke-width="0.95" stroke-linecap="round" fill="none"/>
<path d="M62,460.5V457.6Q62,456 63.6,456H147Q148.6,456 148.6,454.4V452M148.6,454.4Q148.6,456 150.2,456H227.2Q228.8,456 228.8,457.6V460.5" stroke="#404040" stroke-width="1" fill="none"/>
<path d="M149,449.1L149,447.35M149,449.1L150.66,448.56M149,449.1L150.03,450.52M149,449.1L147.97,450.52M149,449.1L147.34,448.56" stroke="#222" stroke-width="0.95" stroke-linecap="round" fill="none"/>
<path d="M62,472V469.1Q62,467.5 63.6,467.5H125.6Q127.2,467.5 127.2,465.9V465.1M127.2,465.9Q127.2,467.5 128.8,467.5H185.9Q187.5,467.5 187.5,469.1V472" stroke="#404040" stroke-width="1" fill="none"/>
<path d="M129.2,462.2L129.2,460.45M129.2,462.2L130.86,461.66M129.2,462.2L130.23,463.62M129.2,462.2L128.17,463.62M129.2,462.2L127.54,461.66" stroke="#222" stroke-width="0.95" stroke-linecap="round" fill="none"/>
<path d="M62,482.5V479.6Q62,478 63.6,478H103Q104.6,478 104.6,476.4V475M104.6,476.4Q104.6,478 106.2,478H142.7Q144.3,478 144.3,479.6V482.5" stroke="#404040" stroke-width="1" fill="none"/>
<path d="M106.2,472.1L106.2,470.35M106.2,472.1L107.86,471.56M106.2,472.1L107.23,473.52M106.2,472.1L105.17,473.52M106.2,472.1L104.54,471.56" stroke="#222" stroke-width="0.95" stroke-linecap="round" fill="none"/>
<rect x="50.45" y="485.42" width="24.3" height="45.38" fill="#9edb58"/>
<polygon points="50.45,485.42 74.75,485.42 70.95,489.82 54.25,489.82" fill="#bdec86"/>
<polygon points="50.45,485.42 54.25,489.82 54.25,526.8 50.45,530.8" fill="#a8e166"/>
<polygon points="74.75,485.42 74.75,530.8 70.95,526.8 70.95,489.82" fill="#88c64a"/>
<polygon points="50.45,530.8 54.25,526.8 70.95,526.8 74.75,530.8" fill="#7ab43e"/>
<rect x="50.45" y="485.42" width="24.3" height="45.38" fill="none" stroke="#1a1a1a" stroke-width="1"/>
<path d="M62.6,485.42V484.52M60.8,484.52H64.4" stroke="#111" stroke-width="1.1" fill="none"/>
<rect x="91.82" y="488" width="24.3" height="42.8" fill="#d2c9a1"/>
<polygon points="91.82,488 116.12,488 112.32,492.4 95.62,492.4" fill="#ebe4c8"/>
<polygon points="91.82,488 95.62,492.4 95.62,526.8 91.82,530.8" fill="#dad2ae"/>
<polygon points="116.12,488 116.12,530.8 112.32,526.8 112.32,492.4" fill="#bdb38e"/>
<polygon points="91.82,530.8 95.62,526.8 112.32,526.8 116.12,530.8" fill="#aea47f"/>
<rect x="91.82" y="488" width="24.3" height="42.8" fill="none" stroke="#1a1a1a" stroke-width="1"/>
<path d="M103.97,488V487.54M102.17,487.54H105.77" stroke="#111" stroke-width="1.1" fill="none"/>
<rect x="133.19" y="493.01" width="24.3" height="37.79" fill="#d2c9a1"/>
<polygon points="133.19,493.01 157.49,493.01 153.69,497.41 136.99,497.41" fill="#ebe4c8"/>
<polygon points="133.19,493.01 136.99,497.41 136.99,526.8 133.19,530.8" fill="#dad2ae"/>
<polygon points="157.49,493.01 157.49,530.8 153.69,526.8 153.69,497.41" fill="#bdb38e"/>
<polygon points="133.19,530.8 136.99,526.8 153.69,526.8 157.49,530.8" fill="#aea47f"/>
<rect x="133.19" y="493.01" width="24.3" height="37.79" fill="none" stroke="#1a1a1a" stroke-width="1"/>
<path d="M145.34,493.01V490.89M143.54,490.89H147.14" stroke="#111" stroke-width="1.1" fill="none"/>
<rect x="174.56" y="493.01" width="24.3" height="37.79" fill="#d2c9a1"/>
<polygon points="174.56,493.01 198.86,493.01 195.06,497.41 178.36,497.41" fill="#ebe4c8"/>
<polygon points="174.56,493.01 178.36,497.41 178.36,526.8 174.56,530.8" fill="#dad2ae"/>
<polygon points="198.86,493.01 198.86,530.8 195.06,526.8 195.06,497.41" fill="#bdb38e"/>
<polygon points="174.56,530.8 178.36,526.8 195.06,526.8 198.86,530.8" fill="#aea47f"/>
<rect x="174.56" y="493.01" width="24.3" height="37.79" fill="none" stroke="#1a1a1a" stroke-width="1"/>
<path d="M186.71,493.01V490.21M184.91,490.21H188.51" stroke="#111" stroke-width="1.1" fill="none"/>
<rect x="215.93" y="496.22" width="24.3" height="34.58" fill="#d2c9a1"/>
<polygon points="215.93,496.22 240.23,496.22 236.43,500.62 219.73,500.62" fill="#ebe4c8"/>
<polygon points="215.93,496.22 219.73,500.62 219.73,526.8 215.93,530.8" fill="#dad2ae"/>
<polygon points="240.23,496.22 240.23,530.8 236.43,526.8 236.43,500.62" fill="#bdb38e"/>
<polygon points="215.93,530.8 219.73,526.8 236.43,526.8 240.23,530.8" fill="#aea47f"/>
<rect x="215.93" y="496.22" width="24.3" height="34.58" fill="none" stroke="#1a1a1a" stroke-width="1"/>
<path d="M228.08,496.22V494.1M226.28,494.1H229.88" stroke="#111" stroke-width="1.1" fill="none"/>
<rect x="257.3" y="501.24" width="24.3" height="29.56" fill="#d2c9a1"/>
<polygon points="257.3,501.24 281.6,501.24 277.8,505.64 261.1,505.64" fill="#ebe4c8"/>
<polygon points="257.3,501.24 261.1,505.64 261.1,526.8 257.3,530.8" fill="#dad2ae"/>
<polygon points="281.6,501.24 281.6,530.8 277.8,526.8 277.8,505.64" fill="#bdb38e"/>
<polygon points="257.3,530.8 261.1,526.8 277.8,526.8 281.6,530.8" fill="#aea47f"/>
<rect x="257.3" y="501.24" width="24.3" height="29.56" fill="none" stroke="#1a1a1a" stroke-width="1"/>
<path d="M269.45,501.24V499.11M267.65,499.11H271.25" stroke="#111" stroke-width="1.1" fill="none"/>
<rect x="298.67" y="511.27" width="24.3" height="19.53" fill="#d2c9a1"/>
<polygon points="298.67,511.27 322.97,511.27 319.17,515.67 302.47,515.67" fill="#ebe4c8"/>
<polygon points="298.67,511.27 302.47,515.67 302.47,526.8 298.67,530.8" fill="#dad2ae"/>
<polygon points="322.97,511.27 322.97,530.8 319.17,526.8 319.17,515.67" fill="#bdb38e"/>
<polygon points="298.67,530.8 302.47,526.8 319.17,526.8 322.97,530.8" fill="#aea47f"/>
<rect x="298.67" y="511.27" width="24.3" height="19.53" fill="none" stroke="#1a1a1a" stroke-width="1"/>
<path d="M310.82,511.27V510.6M309.02,510.6H312.62" stroke="#111" stroke-width="1.1" fill="none"/>
<path d="M41.8,615V530.8" stroke="#666" stroke-width="1.4" fill="none"/>
<path d="M331.2,615V417.8" stroke="#707070" stroke-width="1.4" fill="none"/>
<path d="M41.8,530.8V417.8" stroke="#4a4a4a" stroke-width="1.4" fill="none"/>
<path d="M41.1,417.8H331.9" stroke="#1c1c1c" stroke-width="1.2" fill="none"/>
<path d="M38.8,530.8H331.2" stroke="#4a4a4a" stroke-width="1.5" fill="none"/>
<path d="M83.3,530.8V615" stroke="#666" stroke-width="1.3" fill="none"/>
<path d="M38.8,530.8H41.8" stroke="#4a4a4a" stroke-width="1.2"/>
<text x="34.7" y="533.6" font-size="7.7" text-anchor="end" font-weight="bold" fill="#111" >0</text>
<path d="M38.8,508.2H41.8" stroke="#4a4a4a" stroke-width="1.2"/>
<text x="34.7" y="511" font-size="7.7" text-anchor="end" font-weight="bold" fill="#111" >50</text>
<path d="M38.8,485.6H41.8" stroke="#4a4a4a" stroke-width="1.2"/>
<text x="34.7" y="488.4" font-size="7.7" text-anchor="end" font-weight="bold" fill="#111" >100</text>
<path d="M38.8,463H41.8" stroke="#4a4a4a" stroke-width="1.2"/>
<text x="34.7" y="465.8" font-size="7.7" text-anchor="end" font-weight="bold" fill="#111" >150</text>
<path d="M38.8,440.4H41.8" stroke="#4a4a4a" stroke-width="1.2"/>
<text x="34.7" y="443.2" font-size="7.7" text-anchor="end" font-weight="bold" fill="#111" >200</text>
<path d="M38.8,417.8H41.8" stroke="#4a4a4a" stroke-width="1.2"/>
<text x="34.7" y="420.6" font-size="7.7" text-anchor="end" font-weight="bold" fill="#111" >250</text>
<text transform="translate(14.8 473.5) rotate(-90) scale(1.020 1)" font-size="7.7" text-anchor="middle" font-weight="bold" fill="#111" >Cell viability %</text>
<text transform="translate(205.8 471.5) scale(0.965 1)" font-size="11.5" fill="#111">IC<tspan font-size="7.82" dy="2.3">50</tspan><tspan dy="-2.3"> = 250 Ps + 11.6 5-FU</tspan></text>
<text transform="translate(62.6 612.6) scale(1.070 1)" font-size="7.9" text-anchor="middle" font-weight="bold" fill="#111" >Control</text>
<text transform="translate(284 612.6) scale(1.035 1)" font-size="7.9" text-anchor="end" font-weight="bold" fill="#111" >Concentrations of combination of 5-FU + Ps</text>
<text transform="translate(107.07 535.5) rotate(-90) scale(1.065 1)" font-size="7.7" text-anchor="end" font-weight="bold" fill="#111" >10 Ps +1.0 5-FU</text>
<text transform="translate(148.44 535.5) rotate(-90) scale(1.065 1)" font-size="7.7" text-anchor="end" font-weight="bold" fill="#111" >20 Ps + 2.0 FU</text>
<text transform="translate(189.81 535.5) rotate(-90) scale(1.065 1)" font-size="7.7" text-anchor="end" font-weight="bold" fill="#111" >40 Ps + 4.0 5-FU</text>
<text transform="translate(231.18 535.5) rotate(-90) scale(1.065 1)" font-size="7.7" text-anchor="end" font-weight="bold" fill="#111" >80 Ps + 6.0 5-FU</text>
<text transform="translate(272.55 535.5) rotate(-90) scale(1.065 1)" font-size="7.7" text-anchor="end" font-weight="bold" fill="#111" >160 Ps + 8.0 5-FU</text>
<text transform="translate(313.92 535.5) rotate(-90) scale(1.065 1)" font-size="7.7" text-anchor="end" font-weight="bold" fill="#111" >320 Ps + 12.0 5-FU</text>
<path d="M410.5,431.8V428.9Q410.5,427.3 412.1,427.3H541.9Q543.5,427.3 543.5,425.7V424.8M543.5,425.7Q543.5,427.3 545.1,427.3H661.9Q663.5,427.3 663.5,428.9V431.8" stroke="#404040" stroke-width="1" fill="none"/>
<path d="M543.6,421.9L543.6,420.3M543.6,421.9L545.12,421.41M543.6,421.9L544.54,423.19M543.6,421.9L542.66,423.19M543.6,421.9L542.08,421.41" stroke="#222" stroke-width="0.95" stroke-linecap="round" fill="none"/>
<path d="M410.5,441.7V438.8Q410.5,437.2 412.1,437.2H518.4Q520,437.2 520,435.6V434.2M520,435.6Q520,437.2 521.6,437.2H619.2Q620.8,437.2 620.8,438.8V441.7" stroke="#404040" stroke-width="1" fill="none"/>
<path d="M520,431.3L520,429.7M520,431.3L521.52,430.81M520,431.3L520.94,432.59M520,431.3L519.06,432.59M520,431.3L518.48,430.81" stroke="#222" stroke-width="0.95" stroke-linecap="round" fill="none"/>
<path d="M410.5,451.9V449Q410.5,447.4 412.1,447.4H497.4Q499,447.4 499,445.8V443.7M499,445.8Q499,447.4 500.6,447.4H578.3Q579.9,447.4 579.9,449V451.9" stroke="#404040" stroke-width="1" fill="none"/>
<path d="M499,440.8L499,439.2M499,440.8L500.52,440.31M499,440.8L499.94,442.09M499,440.8L498.06,442.09M499,440.8L497.48,440.31" stroke="#222" stroke-width="0.95" stroke-linecap="round" fill="none"/>
<path d="M410.5,459.9V457Q410.5,455.4 412.1,455.4H476Q477.6,455.4 477.6,453.8V453.4M477.6,453.8Q477.6,455.4 479.2,455.4H536.7Q538.3,455.4 538.3,457V459.9" stroke="#404040" stroke-width="1" fill="none"/>
<path d="M479.5,450.6L479.5,449M479.5,450.6L481.02,450.11M479.5,450.6L480.44,451.89M479.5,450.6L478.56,451.89M479.5,450.6L477.98,450.11" stroke="#222" stroke-width="0.95" stroke-linecap="round" fill="none"/>
<path d="M410.5,470V467.1Q410.5,465.5 412.1,465.5H452.9Q454.5,465.5 454.5,463.9V463M454.5,463.9Q454.5,465.5 456.1,465.5H493.2Q494.8,465.5 494.8,467.1V470" stroke="#404040" stroke-width="1" fill="none"/>
<path d="M456.3,460.1L456.3,458.5M456.3,460.1L457.82,459.61M456.3,460.1L457.24,461.39M456.3,460.1L455.36,461.39M456.3,460.1L454.78,459.61" stroke="#222" stroke-width="0.95" stroke-linecap="round" fill="none"/>
<path d="M410.5,479.5V476.6Q410.5,475 412.1,475H431.7Q433.3,475 433.3,473.4V472.2M433.3,473.4Q433.3,475 434.9,475H451.6Q453.2,475 453.2,476.6V479.5" stroke="#404040" stroke-width="1" fill="none"/>
<path d="M433.3,469.3L433.3,467.7M433.3,469.3L434.82,468.81M433.3,469.3L434.24,470.59M433.3,469.3L432.36,470.59M433.3,469.3L431.78,468.81" stroke="#222" stroke-width="0.95" stroke-linecap="round" fill="none"/>
<rect x="399.45" y="481.42" width="24.3" height="53.68" fill="#9edb58"/>
<polygon points="399.45,481.42 423.75,481.42 419.95,485.82 403.25,485.82" fill="#bdec86"/>
<polygon points="399.45,481.42 403.25,485.82 403.25,531.1 399.45,535.1" fill="#a8e166"/>
<polygon points="423.75,481.42 423.75,535.1 419.95,531.1 419.95,485.82" fill="#88c64a"/>
<polygon points="399.45,535.1 403.25,531.1 419.95,531.1 423.75,535.1" fill="#7ab43e"/>
<rect x="399.45" y="481.42" width="24.3" height="53.68" fill="none" stroke="#1a1a1a" stroke-width="1"/>
<path d="M411.6,481.42V480.62M409.8,480.62H413.4" stroke="#111" stroke-width="1.1" fill="none"/>
<rect x="441.43" y="489.26" width="24.3" height="45.84" fill="#d2c9a1"/>
<polygon points="441.43,489.26 465.73,489.26 461.93,493.66 445.23,493.66" fill="#ebe4c8"/>
<polygon points="441.43,489.26 445.23,493.66 445.23,531.1 441.43,535.1" fill="#dad2ae"/>
<polygon points="465.73,489.26 465.73,535.1 461.93,531.1 461.93,493.66" fill="#bdb38e"/>
<polygon points="441.43,535.1 445.23,531.1 461.93,531.1 465.73,535.1" fill="#aea47f"/>
<rect x="441.43" y="489.26" width="24.3" height="45.84" fill="none" stroke="#1a1a1a" stroke-width="1"/>
<path d="M453.58,489.26V488.73M451.78,488.73H455.38" stroke="#111" stroke-width="1.1" fill="none"/>
<rect x="483.4" y="496.25" width="24.3" height="38.85" fill="#d2c9a1"/>
<polygon points="483.4,496.25 507.7,496.25 503.9,500.65 487.2,500.65" fill="#ebe4c8"/>
<polygon points="483.4,496.25 487.2,500.65 487.2,531.1 483.4,535.1" fill="#dad2ae"/>
<polygon points="507.7,496.25 507.7,535.1 503.9,531.1 503.9,500.65" fill="#bdb38e"/>
<polygon points="483.4,535.1 487.2,531.1 503.9,531.1 507.7,535.1" fill="#aea47f"/>
<rect x="483.4" y="496.25" width="24.3" height="38.85" fill="none" stroke="#1a1a1a" stroke-width="1"/>
<path d="M495.55,496.25V491.98M493.75,491.98H497.35" stroke="#111" stroke-width="1.1" fill="none"/>
<rect x="525.38" y="499.08" width="24.3" height="36.02" fill="#d2c9a1"/>
<polygon points="525.38,499.08 549.68,499.08 545.88,503.48 529.18,503.48" fill="#ebe4c8"/>
<polygon points="525.38,499.08 529.18,503.48 529.18,531.1 525.38,535.1" fill="#dad2ae"/>
<polygon points="549.68,499.08 549.68,535.1 545.88,531.1 545.88,503.48" fill="#bdb38e"/>
<polygon points="525.38,535.1 529.18,531.1 545.88,531.1 549.68,535.1" fill="#aea47f"/>
<rect x="525.38" y="499.08" width="24.3" height="36.02" fill="none" stroke="#1a1a1a" stroke-width="1"/>
<path d="M537.53,499.08V498.28M535.73,498.28H539.33" stroke="#111" stroke-width="1.1" fill="none"/>
<rect x="567.35" y="503.14" width="24.3" height="31.96" fill="#d2c9a1"/>
<polygon points="567.35,503.14 591.65,503.14 587.85,507.54 571.15,507.54" fill="#ebe4c8"/>
<polygon points="567.35,503.14 571.15,507.54 571.15,531.1 567.35,535.1" fill="#dad2ae"/>
<polygon points="591.65,503.14 591.65,535.1 587.85,531.1 587.85,507.54" fill="#bdb38e"/>
<polygon points="567.35,535.1 571.15,531.1 587.85,531.1 591.65,535.1" fill="#aea47f"/>
<rect x="567.35" y="503.14" width="24.3" height="31.96" fill="none" stroke="#1a1a1a" stroke-width="1"/>
<path d="M579.5,503.14V499.93M577.7,499.93H581.3" stroke="#111" stroke-width="1.1" fill="none"/>
<rect x="609.33" y="507.94" width="24.3" height="27.16" fill="#d2c9a1"/>
<polygon points="609.33,507.94 633.62,507.94 629.83,512.34 613.12,512.34" fill="#ebe4c8"/>
<polygon points="609.33,507.94 613.12,512.34 613.12,531.1 609.33,535.1" fill="#dad2ae"/>
<polygon points="633.62,507.94 633.62,535.1 629.83,531.1 629.83,512.34" fill="#bdb38e"/>
<polygon points="609.33,535.1 613.12,531.1 629.83,531.1 633.62,535.1" fill="#aea47f"/>
<rect x="609.33" y="507.94" width="24.3" height="27.16" fill="none" stroke="#1a1a1a" stroke-width="1"/>
<path d="M621.48,507.94V505.27M619.68,505.27H623.27" stroke="#111" stroke-width="1.1" fill="none"/>
<rect x="651.3" y="515.94" width="24.3" height="19.16" fill="#d2c9a1"/>
<polygon points="651.3,515.94 675.6,515.94 671.8,520.34 655.1,520.34" fill="#ebe4c8"/>
<polygon points="651.3,515.94 655.1,520.34 655.1,531.1 651.3,535.1" fill="#dad2ae"/>
<polygon points="675.6,515.94 675.6,535.1 671.8,531.1 671.8,520.34" fill="#bdb38e"/>
<polygon points="651.3,535.1 655.1,531.1 671.8,531.1 675.6,535.1" fill="#aea47f"/>
<rect x="651.3" y="515.94" width="24.3" height="19.16" fill="none" stroke="#1a1a1a" stroke-width="1"/>
<path d="M663.45,515.94V514.07M661.65,514.07H665.25" stroke="#111" stroke-width="1.1" fill="none"/>
<path d="M390.1,608.3V535.1" stroke="#666" stroke-width="1.4" fill="none"/>
<path d="M683.8,608.3V417.7" stroke="#707070" stroke-width="1.4" fill="none"/>
<path d="M390.1,535.1V417.7" stroke="#4a4a4a" stroke-width="1.4" fill="none"/>
<path d="M389.4,417.7H684.5" stroke="#1c1c1c" stroke-width="1.2" fill="none"/>
<path d="M387.1,535.1H683.8" stroke="#4a4a4a" stroke-width="1.5" fill="none"/>
<path d="M432.5,535.1V608.3" stroke="#666" stroke-width="1.3" fill="none"/>
<path d="M387.1,535.1H390.1" stroke="#4a4a4a" stroke-width="1.2"/>
<text x="383.8" y="537.9" font-size="7.7" text-anchor="end" font-weight="bold" fill="#111" >0</text>
<path d="M387.1,524.43H390.1" stroke="#4a4a4a" stroke-width="1.2"/>
<text x="383.8" y="527.23" font-size="7.7" text-anchor="end" font-weight="bold" fill="#111" >20</text>
<path d="M387.1,513.75H390.1" stroke="#4a4a4a" stroke-width="1.2"/>
<text x="383.8" y="516.55" font-size="7.7" text-anchor="end" font-weight="bold" fill="#111" >40</text>
<path d="M387.1,503.08H390.1" stroke="#4a4a4a" stroke-width="1.2"/>
<text x="383.8" y="505.88" font-size="7.7" text-anchor="end" font-weight="bold" fill="#111" >60</text>
<path d="M387.1,492.41H390.1" stroke="#4a4a4a" stroke-width="1.2"/>
<text x="383.8" y="495.21" font-size="7.7" text-anchor="end" font-weight="bold" fill="#111" >80</text>
<path d="M387.1,481.74H390.1" stroke="#4a4a4a" stroke-width="1.2"/>
<text x="383.8" y="484.54" font-size="7.7" text-anchor="end" font-weight="bold" fill="#111" >100</text>
<path d="M387.1,471.06H390.1" stroke="#4a4a4a" stroke-width="1.2"/>
<text x="383.8" y="473.86" font-size="7.7" text-anchor="end" font-weight="bold" fill="#111" >120</text>
<path d="M387.1,460.39H390.1" stroke="#4a4a4a" stroke-width="1.2"/>
<text x="383.8" y="463.19" font-size="7.7" text-anchor="end" font-weight="bold" fill="#111" >140</text>
<path d="M387.1,449.72H390.1" stroke="#4a4a4a" stroke-width="1.2"/>
<text x="383.8" y="452.52" font-size="7.7" text-anchor="end" font-weight="bold" fill="#111" >160</text>
<path d="M387.1,439.05H390.1" stroke="#4a4a4a" stroke-width="1.2"/>
<text x="383.8" y="441.85" font-size="7.7" text-anchor="end" font-weight="bold" fill="#111" >180</text>
<path d="M387.1,428.37H390.1" stroke="#4a4a4a" stroke-width="1.2"/>
<text x="383.8" y="431.17" font-size="7.7" text-anchor="end" font-weight="bold" fill="#111" >200</text>
<path d="M387.1,417.7H390.1" stroke="#4a4a4a" stroke-width="1.2"/>
<text x="383.8" y="420.5" font-size="7.7" text-anchor="end" font-weight="bold" fill="#111" >220</text>
<text transform="translate(362.9 479.2) rotate(-90) scale(0.990 1)" font-size="7.7" text-anchor="middle" font-weight="bold" fill="#111" >Cell viability %</text>
<text transform="translate(565.2 471.5) scale(0.965 1)" font-size="11.5" fill="#111">IC<tspan font-size="7.82" dy="2.3">50</tspan><tspan dy="-2.3"> = 18 Ps + 1.64 5-FU</tspan></text>
<text transform="translate(411.6 607.1) scale(1.120 1)" font-size="7.9" text-anchor="middle" font-weight="bold" fill="#111" >Control</text>
<text transform="translate(636.8 607.1) scale(1.065 1)" font-size="7.9" text-anchor="end" font-weight="bold" fill="#111" >Concentrations of combination of 5-FU + Ps</text>
<text transform="translate(457.18 540.7) rotate(-90)" font-size="7.7" text-anchor="end" font-weight="bold" fill="#111" >4 Ps +0.1 5-FU</text>
<text transform="translate(499.15 540.7) rotate(-90)" font-size="7.7" text-anchor="end" font-weight="bold" fill="#111" >6 Ps + 0.2 FU</text>
<text transform="translate(541.13 540.7) rotate(-90)" font-size="7.7" text-anchor="end" font-weight="bold" fill="#111" >8 Ps + 0.4 5-FU</text>
<text transform="translate(583.1 540.7) rotate(-90)" font-size="7.7" text-anchor="end" font-weight="bold" fill="#111" >12 Ps + 0.8 5-FU</text>
<text transform="translate(625.08 540.7) rotate(-90)" font-size="7.7" text-anchor="end" font-weight="bold" fill="#111" >18 Ps + 1.6 5-FU</text>
<text transform="translate(667.05 540.7) rotate(-90)" font-size="7.7" text-anchor="end" font-weight="bold" fill="#111" >36 Ps + 3.2 5-FU</text>
<text x="175.3" y="8.6" font-size="12.3" text-anchor="middle" font-weight="bold" fill="#111" >Wish cells</text>
<text x="518" y="8.6" font-size="12.3" text-anchor="middle" font-weight="bold" fill="#111" >HepG-2 cells</text>
<text transform="translate(0 25.2) scale(1.070 1)" font-size="11.8" text-anchor="start" font-weight="bold" fill="#111" >(a)</text>
<text transform="translate(-0.4 227.9) scale(1.070 1)" font-size="11.8" text-anchor="start" font-weight="bold" fill="#111" >(b)</text>
<text transform="translate(0 424.9) scale(1.070 1)" font-size="11.8" text-anchor="start" font-weight="bold" fill="#111" >(c)</text>
</svg>
</body></html>
